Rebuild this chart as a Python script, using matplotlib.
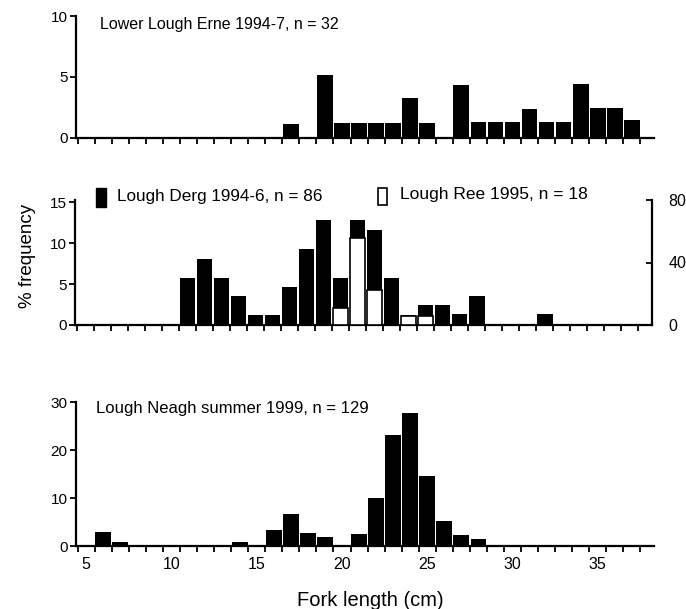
import matplotlib
matplotlib.use("Agg")
import matplotlib.pyplot as plt
from matplotlib.patches import Rectangle
import numpy as np

plt.rcParams['font.family'] = ['Liberation Sans', 'DejaVu Sans']

# Lower Lough Erne 1994-7
erne_len = [17, 19, 20, 21, 22, 23, 24, 25, 27, 28, 29, 30, 31, 32, 33, 34, 35, 36, 37]
erne_pct = [1.15, 5.2, 1.2, 1.2, 1.2, 1.2, 3.3, 1.2, 4.35, 1.3, 1.3, 1.3, 2.35, 1.35, 1.35, 4.45, 2.45, 2.45, 1.45]

# Lough Derg 1994-6 (left axis)
derg_len = [11, 12, 13, 14, 15, 16, 17, 18, 19, 20, 21, 22, 23, 24, 25, 26, 27, 28, 32]
derg_pct = [5.8, 8.1, 5.8, 3.5, 1.2, 1.2, 4.7, 9.3, 12.8, 5.8, 12.8, 11.6, 5.8, 1.2, 2.4, 2.5, 1.3, 3.6, 1.3]

# Lough Ree 1995 (right axis)
ree_len = [20, 21, 22, 24, 25]
ree_pct = [11.1, 55.6, 22.2, 5.6, 5.6]

# Lough Neagh summer 1999
neagh_len = [6, 7, 14, 16, 17, 18, 19, 21, 22, 23, 24, 25, 26, 27, 28]
neagh_pct = [3.0, 0.8, 0.9, 3.3, 6.6, 2.7, 1.9, 2.6, 9.9, 23.2, 27.8, 14.6, 5.3, 2.2, 1.5]

xticks = [5, 10, 15, 20, 25, 30, 35]

W, H = 686, 609
fig = plt.figure(figsize=(W / 100, H / 100), dpi=100)


def px_axes(left, right, top, bottom):
    return fig.add_axes([left / W, 1 - bottom / H, (right - left) / W, (bottom - top) / H])


def style(ax, show_labels=False):
    for s in ['top', 'right']:
        ax.spines[s].set_visible(False)
    for s in ['left', 'bottom']:
        ax.spines[s].set_linewidth(1.6)
    ax.set_xlim(4.4, 38.3)
    ax.set_xticks(xticks)
    ax.set_xticks(np.arange(4.5, 38.0, 1.0), minor=True)
    ax.tick_params(axis='x', which='major', length=0, labelsize=11.5, pad=8,
                   labelbottom=show_labels)
    ax.tick_params(axis='x', which='minor', length=4, width=1.3, direction='out')
    ax.tick_params(axis='y', length=4, width=1.3, direction='out', labelsize=11, pad=2)


# top panel
ax1 = px_axes(76, 654, 16, 138)
ax1.bar(erne_len, erne_pct, width=0.92, color='black')
ax1.set_ylim(0, 10)
ax1.set_yticks([0, 5, 10])
style(ax1)
fig.text(100 / W, 1 - 24 / H, 'Lower Lough Erne 1994-7, n = 32', fontsize=11.5,
         va='center', ha='left')

# middle panel
ax2 = px_axes(75, 652, 200, 325)
ax2.bar(derg_len, derg_pct, width=0.92, color='black')
ax2.set_ylim(0, 15.3)
ax2.set_yticks([0, 5, 10, 15])
style(ax2)
ax2r = ax2.twinx()
ax2r.bar(ree_len, ree_pct, width=0.86, color='white', edgecolor='black', linewidth=1.2)
ax2r.set_ylim(0, 80)
ax2r.set_yticks([0, 40, 80])
for s in ['top', 'left', 'bottom']:
    ax2r.spines[s].set_visible(False)
ax2r.spines['right'].set_linewidth(1.6)
ax2r.tick_params(axis='y', length=4, width=1.3, direction='in', labelsize=11.5, pad=12)

fig.patches.append(Rectangle((96 / W, 1 - 207 / H), 10 / W, 19 / H, transform=fig.transFigure,
                             facecolor='black', edgecolor='black'))
fig.text(117 / W, 1 - 196 / H, 'Lough Derg 1994-6, n = 86', fontsize=12.3,
         va='center', ha='left')
fig.patches.append(Rectangle((378 / W, 1 - 205 / H), 9 / W, 17 / H, transform=fig.transFigure,
                             facecolor='white', edgecolor='black', linewidth=1.2))
fig.text(400 / W, 1 - 194 / H, 'Lough Ree 1995, n = 18', fontsize=12.5,
         va='center', ha='left')

# bottom panel
ax3 = px_axes(76, 654, 402, 546)
ax3.bar(neagh_len, neagh_pct, width=0.92, color='black')
ax3.set_ylim(0, 30)
ax3.set_yticks([0, 10, 20, 30])
style(ax3, show_labels=True)
fig.text(96 / W, 1 - 409 / H, 'Lough Neagh summer 1999, n = 129', fontsize=12,
         va='center', ha='left')

fig.text(370 / W, 1 - 600 / H, 'Fork length (cm)', fontsize=14.5,
         va='center', ha='center')
fig.text(28 / W, 1 - 256 / H, '% frequency', fontsize=13.5, rotation=90,
         va='center', ha='center')

fig.savefig('out.png', dpi=100)
